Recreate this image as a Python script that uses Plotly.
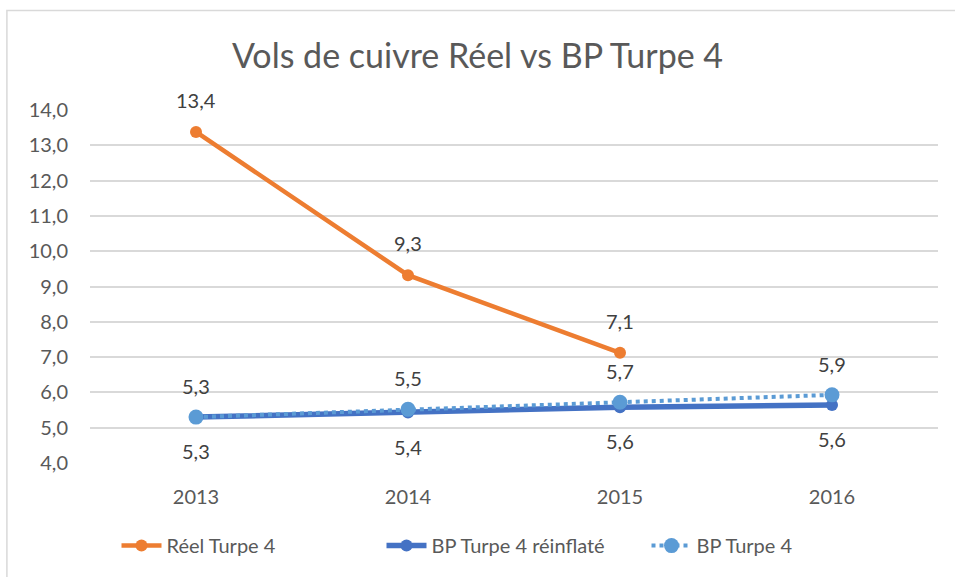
import plotly.graph_objects as go

years = ["2013", "2014", "2015", "2016"]
reel = [13.38, 9.32, 7.12]
bp_reinflate = [5.3, 5.43, 5.58, 5.64]
bp = [5.3, 5.52, 5.72, 5.93]
y_ticks = [4, 5, 6, 7, 8, 9, 10, 11, 12, 13, 14]

FONT = "Lato"
TXT = "#595959"
ORANGE = "#ED7D31"
DBLUE = "#4472C4"
LBLUE = "#5B9BD5"


def fmt(v):
    return f"{v:.1f}".replace(".", ",")


fig = go.Figure()
fig.add_trace(go.Scatter(
    x=years[:len(reel)], y=reel, name="Réel Turpe 4", mode="lines+markers",
    line=dict(color=ORANGE, width=4.5), marker=dict(color=ORANGE, size=12),
))
fig.add_trace(go.Scatter(
    x=years, y=bp_reinflate, name="BP Turpe 4 réinflaté", mode="lines+markers",
    line=dict(color=DBLUE, width=5.5), marker=dict(color=DBLUE, size=12),
))
fig.add_trace(go.Scatter(
    x=years, y=bp, name="BP Turpe 4", mode="lines+markers",
    line=dict(color=LBLUE, width=4, dash="dot"), marker=dict(color=LBLUE, size=15),
))

annotations = []
for ys, shift in [(reel, 32), (bp, 31), (bp_reinflate, -34)]:
    for i, y in enumerate(ys):
        annotations.append(dict(
            x=i, y=y, xref="x", yref="y", text=fmt(y), showarrow=False,
            yshift=shift, font=dict(family=FONT, size=20, color="#404040"),
        ))

fig.update_layout(
    width=955, height=577,
    margin=dict(l=90, r=17, t=110, b=112),
    paper_bgcolor="white", plot_bgcolor="white",
    separators=", ",
    font=dict(family=FONT, color=TXT),
    title=dict(text="Vols de cuivre Réel vs BP Turpe 4", x=0.5, xanchor="center",
               y=0.902, yanchor="middle", yref="container",
               font=dict(family=FONT, size=34, color=TXT)),
    xaxis=dict(type="category", range=[-0.5, 3.5], showgrid=False, showline=False,
               zeroline=False, ticks="", tickfont=dict(size=20, color=TXT),
               ticklabelstandoff=20),
    yaxis=dict(range=[4, 14], tickvals=y_ticks, tickformat=".1f", showgrid=True,
               gridcolor="#D9D9D9", gridwidth=1.5, zeroline=False, showline=False,
               ticks="", tickfont=dict(size=20, color=TXT), ticklabelstandoff=21),
    legend=dict(orientation="h", x=0.5, xanchor="center", y=-0.234, yanchor="middle",
                font=dict(family=FONT, size=20, color=TXT), itemwidth=40,
                entrywidth=210, entrywidthmode="pixels", traceorder="normal"),
    annotations=annotations,
    shapes=[dict(type="rect", xref="paper", yref="paper", x0=-0.098, x1=1.05,
                 y0=-0.4, y1=1.2817, line=dict(color="#D9D9D9", width=1.5),
                 fillcolor="rgba(0,0,0,0)", layer="below")],
)

fig.write_html("out.html", config={"displayModeBar": False},
               post_script="document.body.style.margin='0px';")
